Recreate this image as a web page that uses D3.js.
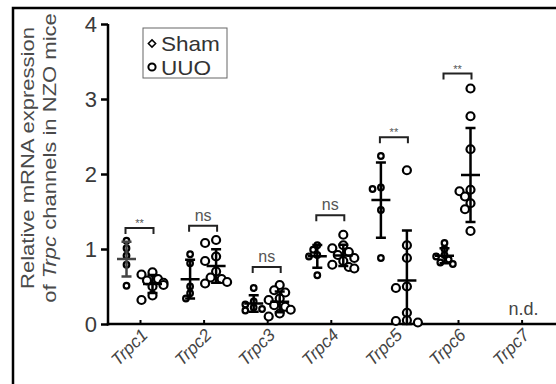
<!DOCTYPE html>
<html>
<head>
<meta charset="utf-8">
<script src="https://cdn.jsdelivr.net/npm/d3@7/dist/d3.min.js"></script>
<style>
body{margin:0;background:#fff;}
svg{display:block;font-family:"Liberation Sans",Arial,sans-serif;}
</style>
</head>
<body>
<div class="canvas"></div>
<script>
var pageWidth = 556,
    pageHeight = 384;
var margins = {t:24,l:108};

// data
var genes = ['Trpc1','Trpc2','Trpc3','Trpc4','Trpc5','Trpc6','Trpc7'];
var shamValues = [
    [1.11, 1.01, 0.91, 0.79, 0.51],
    [0.93, 0.81, 0.50, 0.41, 0.34],
    [0.48, 0.30, 0.26, 0.22, 0.20, 0.18],
    [1.05, 0.99, 0.92, 0.90, 0.65],
    [2.24, 1.82, 1.80, 1.52, 0.88],
    [1.08, 1.00, 0.92, 0.90, 0.86, 0.82, 0.80],
    []
];
var uuoValues = [
    [0.69, 0.66, 0.60, 0.58, 0.55, 0.52, 0.50, 0.38, 0.32],
    [1.12, 1.08, 0.90, 0.84, 0.70, 0.62, 0.60, 0.56, 0.54],
    [0.52, 0.45, 0.42, 0.34, 0.32, 0.25, 0.23, 0.19, 0.14, 0.10],
    [1.19, 1.05, 1.01, 0.96, 0.92, 0.88, 0.84, 0.79, 0.76, 0.74],
    [2.05, 1.05, 0.88, 0.50, 0.48, 0.15, 0.05, 0.04, 0.02],
    [3.14, 2.77, 2.33, 1.79, 1.77, 1.70, 1.61, 1.53, 1.24],
    []
];
var sigLabels = ['**','ns','ns','ns','**','**',''];
var sigHeights = [1.28, 1.31, 0.76, 1.45, 2.49, 3.34, null];
var yTicks = [0,1,2,3,4];
var groups = ['Sham','UUO'];

var svg = d3.select('.canvas')
    .append('svg')
    .attr('width',pageWidth)
    .attr('height',pageHeight);

// outer frame
svg.append('rect')
    .attr('x',13).attr('y',8)
    .attr('width',pageWidth+20).attr('height',pageHeight+20)
    .style('fill','none').style('stroke','#000').style('stroke-width',2.5);

var x = d3.scalePoint().domain(genes).range([140,521.6]);
var y = d3.scaleLinear().domain([0,4]).range([324,24]);
var offset = {Sham:-13.5, UUO:12.5};

// y axis
var yAxis = svg.append('g')
    .attr('transform','translate('+margins.l+',0)')
    .call(d3.axisLeft(y).tickValues(yTicks).tickSize(7).tickPadding(4).tickFormat(d3.format('d')));
yAxis.select('.domain').attr('d','M0,'+y(4)+'V'+(y(0)+1.5)).style('stroke-width',2.5);
yAxis.selectAll('.tick line').style('stroke-width',2.5);
yAxis.selectAll('.tick text').style('font-size','22px').style('fill','#3a3a3a').attr('dy','0.36em');

// x axis (ticks pointing inward)
var xAxis = svg.append('g')
    .attr('transform','translate(0,'+y(0)+')')
    .call(d3.axisBottom(x).tickSize(-4).tickFormat(''));
xAxis.select('.domain').attr('d','M'+(margins.l-1.2)+',0H'+pageWidth).style('stroke-width',2.5);
xAxis.selectAll('.tick line').style('stroke-width',2);

svg.selectAll('.x-label')
    .data(genes)
    .enter().append('text')
    .attr('class','x-label')
    .attr('transform',function(d){return 'translate('+(x(d)+9)+','+(y(0)+12)+') rotate(-45)';})
    .attr('text-anchor','end')
    .style('font-size','17.5px').style('font-style','italic').style('fill','#444')
    .text(function(d){return d;});

// y title (slightly widened to match the original export)
var title = svg.append('text')
    .attr('transform','translate(34,158) rotate(-90) scale(1.16,1)')
    .attr('text-anchor','middle')
    .style('font-size','19px').style('fill','#4a4a4a');
title.append('tspan').attr('x',0).attr('y',0).text('Relative mRNA expression');
var t2 = title.append('tspan').attr('x',0).attr('y',22).text('of ');
t2.append('tspan').style('font-style','italic').text('Trpc');
t2.append('tspan').text(' channels in NZO mice');

// tight beeswarm so overlapping points sit side by side
function swarm(values, r){
    var placed = [];
    var sorted = values.slice().sort(function(a,b){return b-a;});
    sorted.forEach(function(v){
        var py = y(v);
        var steps = [0,-1,1,-2,2];
        for(var i=0;i<steps.length;i++){
            var px = steps[i]*r*1.1;
            var ok = placed.every(function(p){
                var dx = p.x-px, dy = p.y-py;
                return dx*dx+dy*dy >= (r*1.5)*(r*1.5);
            });
            if(ok || i==steps.length-1){ placed.push({x:px,y:py,v:v}); break; }
        }
    });
    return placed;
}

function meanSd(values){
    var m = d3.mean(values), s = d3.deviation(values);
    return {m:m, lo:Math.max(0,m-s), hi:m+s};
}

var plot = svg.append('g').attr('class','plot');

genes.forEach(function(gene,i){
    [shamValues[i], uuoValues[i]].forEach(function(vals,gi){
        if(!vals.length) return;
        var cx = x(gene)+offset[groups[gi]];
        var r = gi==0 ? 2.8 : 4;
        var g = plot.append('g').attr('class','col');
        var pts = swarm(vals, r+1);
        g.selectAll('circle')
            .data(pts)
            .enter().append('circle')
            .attr('cx',function(d){return cx+d.x;})
            .attr('cy',function(d){return d.y;})
            .attr('r',r)
            .style('fill','#fff').style('stroke','#000').style('stroke-width',2.2);
        var st = meanSd(vals);
        var path = 'M'+cx+','+y(st.lo)+'V'+y(st.hi)
            +'M'+(cx-5)+','+y(st.hi)+'H'+(cx+5)
            +'M'+(cx-5)+','+y(st.lo)+'H'+(cx+5)
            +'M'+(cx-9.5)+','+y(st.m)+'H'+(cx+9.5);
        g.append('path').attr('d',path)
            .style('fill','none').style('stroke',(i==0&&gi==0)?'#444':'#000').style('stroke-width',2.5);
    });

    if(sigHeights[i]!==null){
        var x0 = x(gene)+offset.Sham-1, x1 = x(gene)+offset.UUO+1, yy = y(sigHeights[i]);
        plot.append('path')
            .attr('d','M'+x0+','+(yy+6)+'V'+yy+'H'+x1+'V'+(yy+6))
            .style('fill','none').style('stroke','#222').style('stroke-width',2);
        plot.append('text')
            .attr('x',(x0+x1)/2)
            .attr('y',sigLabels[i]=='ns' ? yy-5 : yy-1)
            .attr('text-anchor','middle')
            .style('font-size',sigLabels[i]=='ns' ? '16px' : '11px')
            .style('fill','#555')
            .text(sigLabels[i]);
    } else {
        plot.append('text')
            .attr('x',x(gene)+2).attr('y',y(0)-9)
            .attr('text-anchor','middle')
            .style('font-size','18px').style('fill','#444')
            .text('n.d.');
    }
});

// legend
var legend = svg.append('g').attr('class','legend');
legend.append('rect')
    .attr('x',143).attr('y',28).attr('width',84).attr('height',50)
    .style('fill','#fff').style('stroke','#666').style('stroke-width',1);
legend.append('path')
    .attr('d',d3.symbol().type(d3.symbolDiamond2).size(34)())
    .attr('transform','translate(152,43.5)')
    .style('fill','none').style('stroke','#000').style('stroke-width',1.5);
legend.append('circle')
    .attr('cx',152).attr('cy',67).attr('r',3.6)
    .style('fill','none').style('stroke','#000').style('stroke-width',2);
legend.selectAll('.legend-label')
    .data(groups)
    .enter().append('text')
    .attr('class','legend-label')
    .attr('transform',function(d,i){return 'translate(161,'+(51+i*24)+') scale(1.1,1)';})
    .style('font-size','20.5px').style('fill','#333')
    .text(function(d){return d;});
</script>
</body>
</html>
